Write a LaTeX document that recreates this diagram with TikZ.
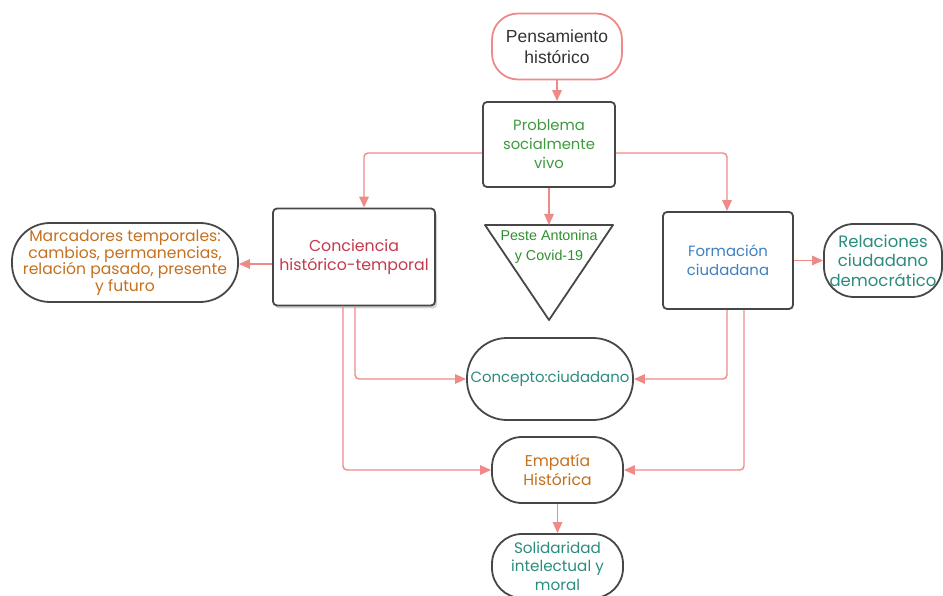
\documentclass[tikz,border=0pt]{standalone}
\usepackage{fontspec}
\setmainfont{Poppins}
\newfontfamily\arialf{Liberation Sans}
\usetikzlibrary{arrows.meta,shadows,calc}
\definecolor{pinkl}{HTML}{EE8A88}
\definecolor{darkb}{HTML}{474747}
\definecolor{grn}{HTML}{3C9A3C}
\definecolor{grnd}{HTML}{2F8F2F}
\definecolor{crim}{HTML}{C33A4E}
\definecolor{orng}{HTML}{C4701E}
\definecolor{blu}{HTML}{3F7FC0}
\definecolor{teal2}{HTML}{2A8C7C}
\begin{document}
\begin{tikzpicture}[x=1pt,y=-1pt,
  boxline/.style={draw=darkb,line width=1.8pt},
  rectbox/.style={boxline,rectangle,rounded corners=4pt,inner sep=2pt,align=center},
  pill/.style={boxline,rectangle,rounded corners=30pt,inner sep=1pt,align=center},
  conn/.style={draw=pinkl,line width=1.4pt,rounded corners=4pt,-{Triangle[length=11pt,width=9.5pt]}}
]
\useasboundingbox (0,0) rectangle (943,596);

% Pensamiento historico
\node[draw=pinkl,line width=1.8pt,rectangle,rounded corners=26pt,align=center,
  minimum width=130pt,minimum height=66pt,inner sep=2pt,
  font=\arialf\fontsize{17.5}{21}\selectfont,text=black!80]
  (pens) at (557,46.5) {Pensamiento\\histórico};

% Problema
\node[rectbox,minimum width=132pt,minimum height=85pt,text=grn,
  font=\fontsize{14.8}{19}\selectfont]
  (prob) at (549,144.5) {Problema\\socialmente\\vivo};

% Conciencia
\node[rectbox,fill=white,minimum width=162pt,minimum height=97pt,text=crim,
  font=\fontsize{15.8}{19}\selectfont,
  drop shadow={opacity=0.35,shadow xshift=2pt,shadow yshift=-3pt}]
  (conc) at (354,257) {Conciencia\\histórico-temporal};

% Marcadores
\node[pill,rounded corners=38pt,minimum width=226pt,minimum height=79pt,text=orng,
  font=\fontsize{15.6}{16.5}\selectfont]
  (marc) at (125,262.5) {Marcadores temporales:\\cambios, permanencias,\\relación pasado, presente\\y futuro};

% Triangle
\coordinate (triA) at (485,225);
\coordinate (triB) at (613,225);
\coordinate (triC) at (549,320);
\coordinate (triT) at (549,225);
\draw[boxline,line join=round] (triA) -- (triB) -- (triC) -- cycle;
\node[align=center,text=grnd,font=\arialf\fontsize{14.3}{20.5}\selectfont,inner sep=0pt]
  (peste) at (549,247) {Peste Antonina\\y Covid-19};

% Formacion
\node[rectbox,minimum width=130pt,minimum height=97pt,text=blu,
  font=\fontsize{14.9}{19}\selectfont]
  (form) at (728,260.5) {Formación\\ciudadana};

% Relaciones
\node[pill,minimum width=118pt,minimum height=73pt,text=teal2,
  font=\fontsize{16.5}{19.5}\selectfont]
  (rel) at (883,260.5) {Relaciones\\ciudadano\\democrático};

% Concepto
\node[pill,rounded corners=40pt,minimum width=166pt,minimum height=82pt,text=teal2,
  font=\fontsize{14.9}{19}\selectfont]
  (concep) at (550,379) {Concepto:ciudadano};

% Empatia
\node[pill,minimum width=131pt,minimum height=66pt,text=orng,
  font=\fontsize{15.6}{18.5}\selectfont]
  (emp) at (557.5,470) {Empatía\\Histórica};

% Solidaridad
\node[pill,minimum width=131pt,minimum height=64pt,text=teal2,
  font=\fontsize{15.2}{18.5}\selectfont]
  (sol) at (557.5,566) {Solidaridad\\intelectual y\\moral};

% connectors
\coordinate (c1) at (364,153);
\coordinate (c2) at (727,153);
\coordinate (c3) at (0,264);
\coordinate (c4) at (355,0);
\coordinate (c5) at (343,0);
\coordinate (c6) at (727,0);
\coordinate (c7) at (744,0);

\draw[conn] (pens.south) -- (pens.south |- prob.north);
\draw[conn] (prob.west |- c1) -| (c1 |- conc.north);
\draw[conn] (prob.east |- c2) -| (c2 |- form.north);
\draw[conn] (prob.south -| triT) -- (triT);
\draw[conn] (conc.west |- c3) -- (marc.east |- c3);
\draw[conn] (form.east) -- (rel.west);
\draw[conn] (conc.south -| c4) |- (concep.west);
\draw[conn] (conc.south -| c5) |- (emp.west);
\draw[conn] (form.south -| c6) |- (concep.east);
\draw[conn] (form.south -| c7) |- (emp.east);
\draw[conn] (emp.south) -- (sol.north);
\end{tikzpicture}
\end{document}
